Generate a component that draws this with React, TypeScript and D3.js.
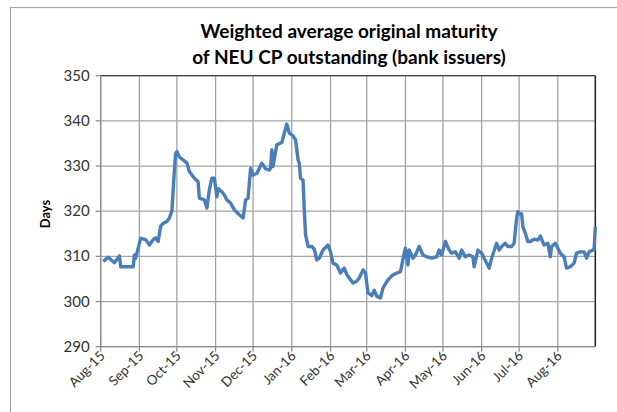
import React from "react";
import * as d3 from "d3";

// weighted average original maturity, days
const dates = [
  "2015-08-03", "2015-08-07", "2015-08-12", "2015-08-16", "2015-08-17", "2015-08-27", "2015-08-28", "2015-08-29",
  "2015-09-02", "2015-09-06", "2015-09-09", "2015-09-12", "2015-09-14", "2015-09-16", "2015-09-18",
  "2015-09-20", "2015-09-23", "2015-09-25", "2015-09-27", "2015-09-29", "2015-09-30",
  "2015-10-01", "2015-10-03", "2015-10-09", "2015-10-11", "2015-10-15", "2015-10-18", "2015-10-19",
  "2015-10-23", "2015-10-25", "2015-10-27", "2015-10-29", "2015-10-31",
  "2015-11-02", "2015-11-03", "2015-11-06", "2015-11-08", "2015-11-10", "2015-11-13", "2015-11-16",
  "2015-11-20", "2015-11-23", "2015-11-25", "2015-11-27", "2015-11-29",
  "2015-12-01", "2015-12-04", "2015-12-08", "2015-12-11", "2015-12-14", "2015-12-15", "2015-12-16",
  "2015-12-17", "2015-12-20", "2015-12-24", "2015-12-26", "2015-12-28", "2015-12-30",
  "2016-01-02", "2016-01-04", "2016-01-06", "2016-01-07", "2016-01-08", "2016-01-10", "2016-01-11",
  "2016-01-12", "2016-01-14", "2016-01-17", "2016-01-19", "2016-01-21", "2016-01-23", "2016-01-26",
  "2016-01-30",
  "2016-02-01", "2016-02-03", "2016-02-06", "2016-02-09", "2016-02-12", "2016-02-14", "2016-02-16",
  "2016-02-19", "2016-02-22", "2016-02-24", "2016-02-27", "2016-02-29",
  "2016-03-02", "2016-03-05", "2016-03-07", "2016-03-09", "2016-03-12", "2016-03-14", "2016-03-18",
  "2016-03-21", "2016-03-25", "2016-03-28", "2016-03-31",
  "2016-04-01", "2016-04-03", "2016-04-04", "2016-04-07", "2016-04-09", "2016-04-12", "2016-04-15",
  "2016-04-18", "2016-04-22", "2016-04-26", "2016-04-28", "2016-04-30",
  "2016-05-03", "2016-05-06", "2016-05-08", "2016-05-11", "2016-05-14", "2016-05-16", "2016-05-19",
  "2016-05-22", "2016-05-25", "2016-05-26", "2016-05-29",
  "2016-06-01", "2016-06-03", "2016-06-07", "2016-06-09", "2016-06-13", "2016-06-15", "2016-06-17",
  "2016-06-20", "2016-06-22", "2016-06-25", "2016-06-27", "2016-06-29", "2016-06-30",
  "2016-07-01", "2016-07-03", "2016-07-04", "2016-07-06", "2016-07-08", "2016-07-10", "2016-07-13",
  "2016-07-16", "2016-07-18", "2016-07-21", "2016-07-24", "2016-07-26", "2016-07-27", "2016-07-30",
  "2016-08-01", "2016-08-03", "2016-08-06", "2016-08-08", "2016-08-11", "2016-08-14", "2016-08-16",
  "2016-08-19", "2016-08-22", "2016-08-24", "2016-08-26", "2016-08-29", "2016-08-30", "2016-08-31",
];

const days = [
  308.9, 309.8, 308.6, 310.1, 307.7, 307.7, 310.3, 309.6,
  314.0, 313.7, 312.5, 313.7, 314.1, 313.3, 316.7,
  317.3, 317.7, 318.5, 320.0, 329.1, 332.8,
  333.2, 332.0, 330.7, 328.8, 327.3, 326.5, 322.9,
  322.5, 320.7, 324.7, 327.3, 327.3,
  323.2, 325.0, 324.3, 323.6, 322.5, 321.8, 320.3,
  319.2, 318.5, 322.5, 322.9, 329.5,
  328.0, 328.4, 330.6, 329.4, 329.1, 329.5, 333.6,
  329.9, 334.7, 335.2, 337.3, 339.3, 337.3,
  336.7, 335.8, 331.4, 330.6, 327.3, 326.9, 320.3,
  314.8, 312.2, 312.2, 311.6, 309.2, 309.6, 311.4,
  312.5,
  311.0, 308.5, 308.1, 306.3, 307.4, 306.0, 305.2,
  304.1, 304.5, 305.2, 307.0, 306.3,
  301.9, 301.3, 302.5, 301.2, 300.8, 303.0, 304.8,
  305.7, 306.3, 306.6, 310.7,
  311.8, 308.1, 311.4, 309.6, 310.3, 312.2, 310.3,
  309.9, 309.6, 309.9, 311.4, 310.3,
  313.3, 311.4, 310.7, 311.0, 309.6, 311.4, 309.9,
  310.3, 309.9, 307.7, 311.4,
  310.7, 309.6, 307.4, 309.6, 312.9, 311.4, 312.2,
  312.9, 312.2, 312.2, 312.9, 318.4, 319.9,
  319.5, 319.4, 316.6, 315.1, 313.3, 313.3, 313.8,
  313.6, 314.5, 312.5, 312.9, 309.9, 312.2, 312.9,
  311.8, 310.7, 309.9, 307.4, 307.7, 308.5, 310.7,
  311.0, 311.0, 309.6, 311.0, 311.4, 311.4, 316.6,
];

const yTicks = [290, 300, 310, 320, 330, 340, 350];
const monthTicks = [
  "2015-08-01", "2015-09-01", "2015-10-01", "2015-11-01", "2015-12-01", "2016-01-01", "2016-02-01",
  "2016-03-01", "2016-04-01", "2016-05-01", "2016-06-01", "2016-07-01", "2016-08-01",
];
const title = ["Weighted average original maturity", "of NEU CP outstanding (bank issuers)"];

const W = 617;
const H = 412;
const font = "Lato, 'Open Sans', sans-serif";

export default function App() {
  const parse = d3.timeParse("%Y-%m-%d");
  const points = dates.map((d, i) => ({ date: parse(d) as Date, v: days[i] }));
  const ticks = monthTicks.map((d) => parse(d) as Date);

  const x = d3
    .scaleTime()
    .domain([parse("2015-08-01") as Date, parse("2016-08-31") as Date])
    .range([100.7, 595.3]);
  const y = d3.scaleLinear().domain([290, 350]).range([346.7, 75.7]);

  const line = d3
    .line<{ date: Date; v: number }>()
    .x((d) => x(d.date))
    .y((d) => y(d.v));

  const fmt = d3.timeFormat("%b-%y");
  const [x0, x1] = x.range();
  const [yb, yt] = y.range();

  return (
    <svg
      width={W}
      height={H}
      style={{ position: "absolute", left: 0, top: 0, background: "#fff" }}
      fontFamily={font}
    >
      <rect x={10.5} y={7.5} width={640} height={440} fill="#fff" stroke="#a6a6a6" strokeWidth={1.2} />

      {/* title */}
      {title.map((t, i) => (
        <text
          key={t}
          x={349}
          y={38 + i * 25.5}
          textAnchor="middle"
          fontSize={19}
          fontWeight="bold"
          fill="#000"
        >
          {t}
        </text>
      ))}

      {/* gridlines */}
      {yTicks.map((t) => (
        <line key={"h" + t} x1={x0} x2={x1} y1={y(t)} y2={y(t)} stroke="#a3a3a3" strokeWidth={1.3} />
      ))}
      {ticks.map((t) => (
        <line key={"v" + t.getTime()} x1={x(t)} x2={x(t)} y1={yb} y2={yt} stroke="#a3a3a3" strokeWidth={1.3} />
      ))}

      {/* frame */}
      <line x1={x0} x2={x1} y1={yt} y2={yt} stroke="#404040" strokeWidth={1.3} />
      <line x1={x1} x2={x1} y1={yt} y2={yb} stroke="#202020" strokeWidth={1.5} />
      <line x1={x0} x2={x0} y1={yt} y2={yb} stroke="#8c8c8c" strokeWidth={1.3} />
      <line x1={x0} x2={x1} y1={yb} y2={yb} stroke="#8c8c8c" strokeWidth={1.3} />

      {/* y axis */}
      {yTicks.map((t) => (
        <g key={"y" + t}>
          <line x1={x0 - 5} x2={x0} y1={y(t)} y2={y(t)} stroke="#8c8c8c" strokeWidth={1.3} />
          <text x={x0 - 11} y={y(t) + 5} textAnchor="end" fontSize={15} fill="#333">
            {t}
          </text>
        </g>
      ))}
      <text
        transform="translate(50,214) rotate(-90)"
        textAnchor="middle"
        fontSize={13}
        fontWeight="bold"
        fill="#000"
      >
        Days
      </text>

      {/* x axis */}
      {ticks.map((t) => (
        <g key={"x" + t.getTime()}>
          <line x1={x(t)} x2={x(t)} y1={yb} y2={yb + 5} stroke="#8c8c8c" strokeWidth={1.3} />
          <text
            transform={`translate(${x(t) + 5},${yb + 10}) rotate(-45)`}
            textAnchor="end"
            fontSize={13.5}
            fill="#333"
          >
            {fmt(t)}
          </text>
        </g>
      ))}

      <path d={line(points) || ""} fill="none" stroke="#4a7ebb" strokeWidth={3.4} strokeLinejoin="round" />
    </svg>
  );
}
